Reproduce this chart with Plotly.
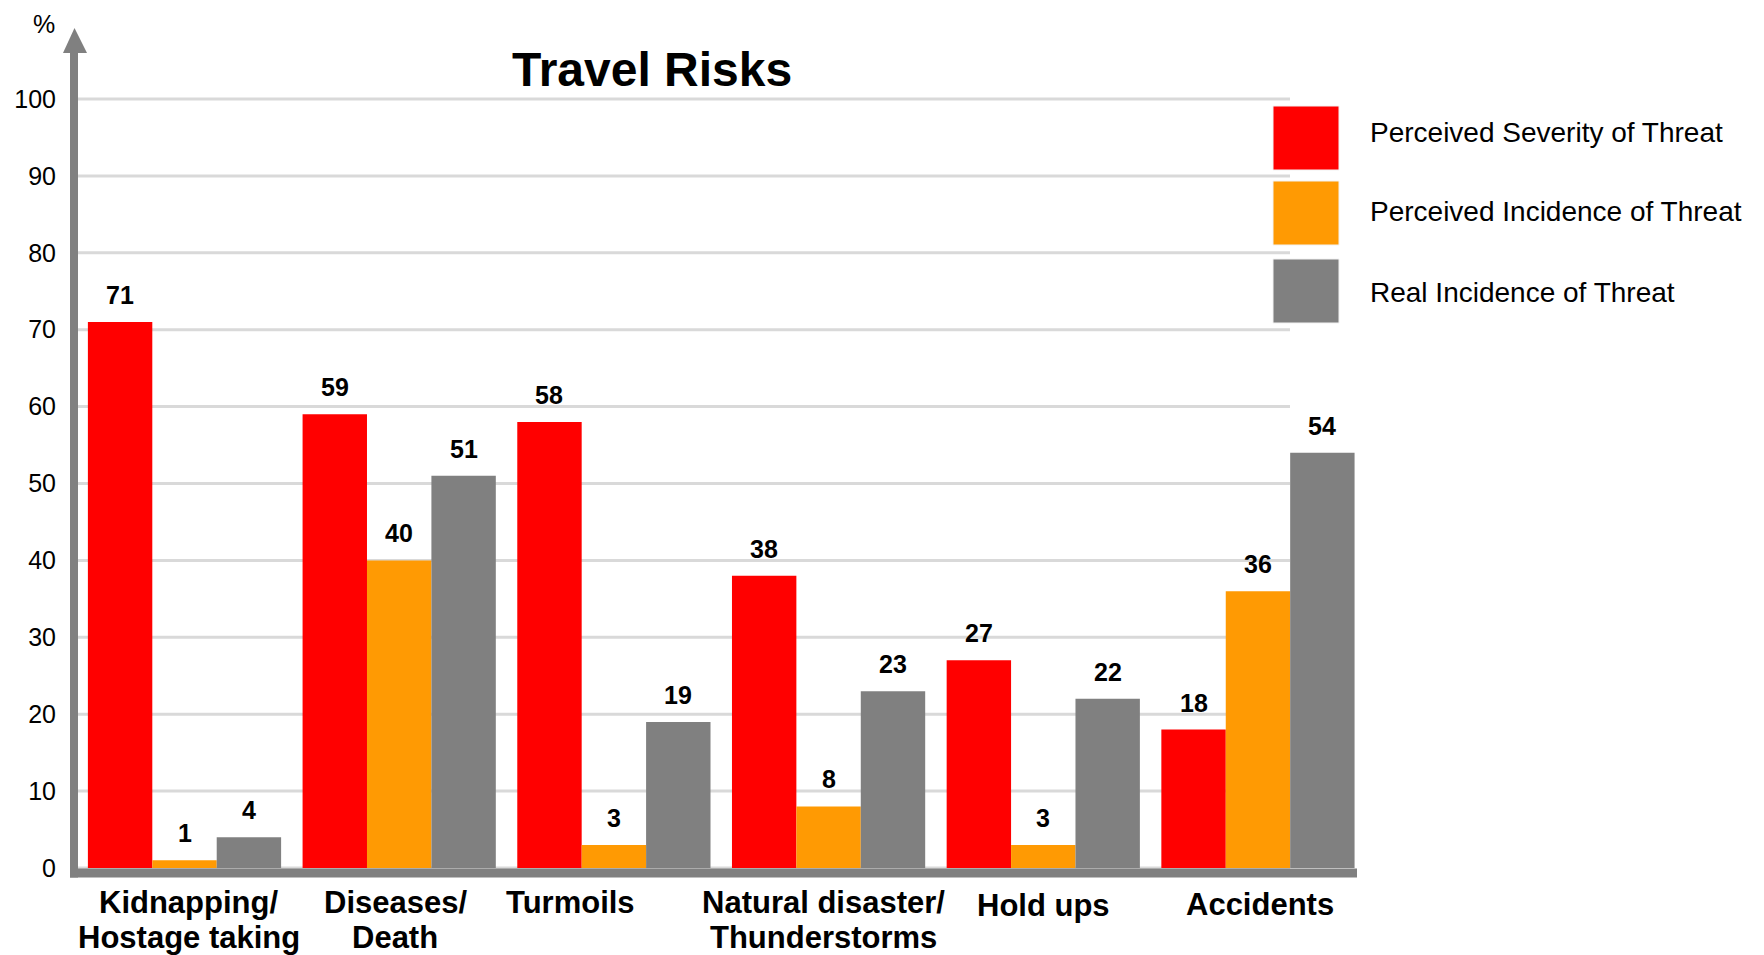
import plotly.graph_objects as go

# ---- data -------------------------------------------------------------
categories = [
    "Kidnapping/<br>Hostage taking",
    "Diseases/<br>Death",
    "Turmoils",
    "Natural disaster/<br>Thunderstorms",
    "Hold ups",
    "Accidents",
]
severity = [71, 59, 58, 38, 27, 18]
perceived_incidence = [1, 40, 3, 8, 3, 36]
real_incidence = [4, 51, 19, 23, 22, 54]

series_names = [
    "Perceived Severity of Threat",
    "Perceived Incidence of Threat",
    "Real Incidence of Threat",
]
y_ticks = list(range(0, 101, 10))

# ---- style ------------------------------------------------------------
colors = ["#FF0000", "#FF9A03", "#808080"]
axis_gray = "#808080"
grid_gray = "#D9D9D9"
FONT = "Liberation Sans, Arial, Helvetica, sans-serif"
BARGAP = 0.1

W, H = 1764, 955
ML, MR, MT, MB = 74, 407, 20, 77
PW, PH = W - ML - MR, H - MT - MB
X_RANGE = [-0.5147, 5.4613]
Y_RANGE = [-1.30, 110.27]
label_xshift = [4, -4, -43, -5, 0, 2]
label_yshift = [0, 0, 0, 0, -3, -2]


def px_x(px):
    return (px - ML) / PW


def px_y(py):
    return (H - MB - py) / PH


x = list(range(len(categories)))
series = [severity, perceived_incidence, real_incidence]

fig = go.Figure()
for name, vals, col in zip(series_names, series, colors):
    fig.add_trace(go.Bar(
        x=x, y=vals, name=name, marker=dict(color=col, line=dict(width=0)),
        showlegend=False, hoverinfo="y",
    ))

annotations = []
shapes = []

# value labels above each bar
bw = (1 - BARGAP) / 3
for k, vals in enumerate(series):
    for i, v in enumerate(vals):
        annotations.append(dict(
            x=i + (k - 1) * bw, y=v, xref="x", yref="y", text=str(v),
            showarrow=False, yanchor="middle", yshift=27,
            font=dict(family=FONT, size=25, color="#000000", weight="bold"),
        ))

# category labels under the floor
for i, cat in enumerate(categories):
    for j, line in enumerate(cat.split("<br>")):
        annotations.append(dict(
            x=i, y=px_y(902 + 35 * j), xref="x", yref="paper", text=line,
            showarrow=False, yanchor="middle",
            xshift=label_xshift[i], yshift=label_yshift[i],
            font=dict(family=FONT, size=31, color="#000000", weight="bold"),
        ))

# title and unit
annotations.append(dict(
    x=px_x(652), y=px_y(69), xref="paper", yref="paper", text="Travel Risks",
    showarrow=False, yanchor="middle", xanchor="center",
    font=dict(family=FONT, size=48, color="#000000", weight="bold"),
))
annotations.append(dict(
    x=px_x(44), y=px_y(24), xref="paper", yref="paper", text="%",
    showarrow=False, yanchor="middle", xanchor="center",
    font=dict(family=FONT, size=25, color="#000000"),
))

# legend: colour boxes with labels
box_rows = [(106, 170), (181, 245), (259, 323)]
text_rows = [132, 212, 292]
for (top, bot), ty, name, col in zip(box_rows, text_rows, series_names, colors):
    shapes.append(dict(
        type="rect", xref="paper", yref="paper",
        x0=px_x(1273), x1=px_x(1339), y0=px_y(bot), y1=px_y(top),
        fillcolor=col, line=dict(color="#F2F2F2", width=1), layer="above",
    ))
    annotations.append(dict(
        x=px_x(1368), y=px_y(ty), xref="paper", yref="paper", text=name,
        showarrow=False, xanchor="left", yanchor="middle",
        font=dict(family=FONT, size=28, color="#000000"),
    ))

# horizontal gridlines
for v in y_ticks:
    shapes.append(dict(
        type="line", xref="paper", yref="y",
        x0=px_x(78), x1=px_x(1290), y0=v, y1=v,
        line=dict(color=grid_gray, width=3), layer="below",
    ))

# floor under the bars
shapes.append(dict(
    type="rect", xref="paper", yref="paper",
    x0=px_x(70), x1=px_x(1357), y0=px_y(877.5), y1=px_y(868.5),
    fillcolor=axis_gray, line=dict(width=0), layer="above",
))
# vertical axis with arrow head
shapes.append(dict(
    type="rect", xref="paper", yref="paper",
    x0=px_x(70), x1=px_x(78), y0=px_y(877.5), y1=px_y(50),
    fillcolor=axis_gray, line=dict(width=0), layer="above",
))
shapes.append(dict(
    type="path", xref="paper", yref="paper",
    path=(f"M {px_x(63)},{px_y(53)} L {px_x(87)},{px_y(53)} "
          f"L {px_x(74.5)},{px_y(28)} Z"),
    fillcolor=axis_gray, line=dict(width=0), layer="above",
))

fig.update_layout(
    width=W, height=H,
    margin=dict(l=ML, r=MR, t=MT, b=MB, pad=0),
    paper_bgcolor="#FFFFFF", plot_bgcolor="#FFFFFF",
    barmode="group", bargap=BARGAP, bargroupgap=0,
    showlegend=False,
    xaxis=dict(range=X_RANGE, showticklabels=False, showgrid=False,
               zeroline=False, showline=False, ticks=""),
    yaxis=dict(range=Y_RANGE, tickvals=y_ticks, showgrid=False,
               zeroline=False, showline=False, ticks="",
               ticklabelstandoff=17,
               tickfont=dict(family=FONT, size=25, color="#000000")),
    annotations=annotations,
    shapes=shapes,
)

fig.write_html("out.html")
